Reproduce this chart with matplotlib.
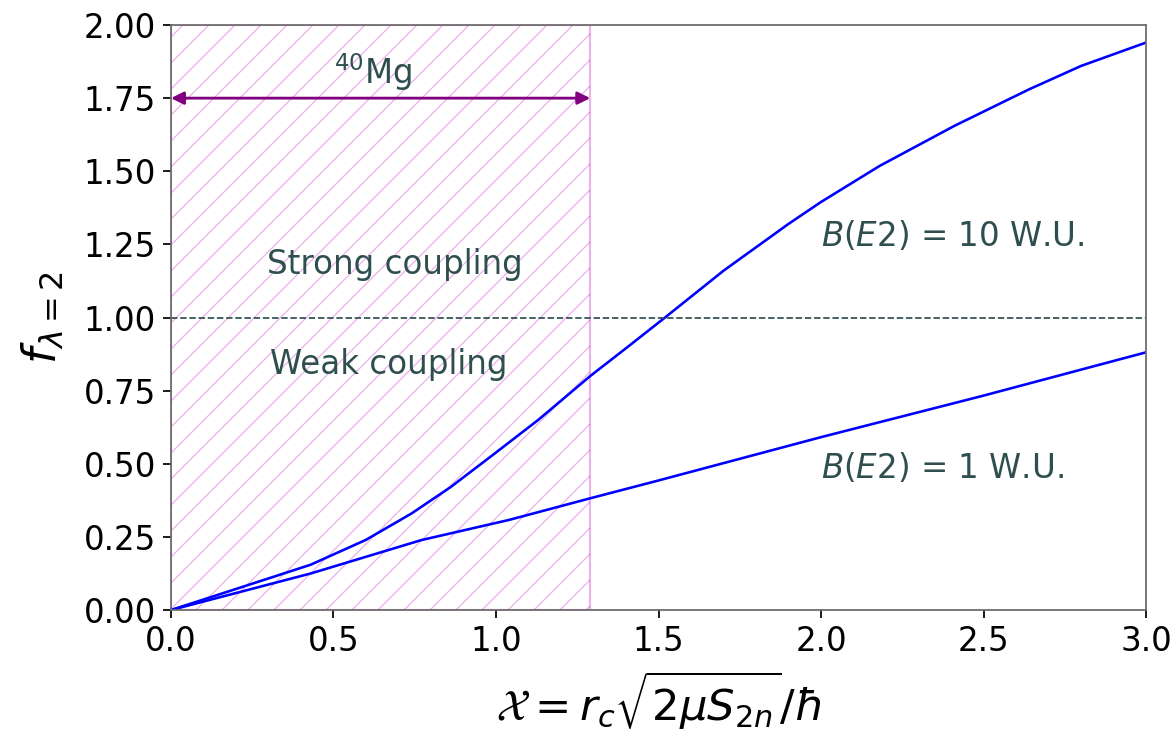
import numpy as np
import matplotlib
matplotlib.use("Agg")
import matplotlib.pyplot as plt

# coupling strength f vs X for two B(E2) values
x_10wu = [0.0, 0.20, 0.43, 0.60, 0.74, 0.86, 0.99, 1.13, 1.29, 1.40, 1.52, 1.70, 1.90, 2.00, 2.18, 2.41, 2.64, 2.80, 3.0]
f_10wu = [0.0, 0.072, 0.155, 0.24, 0.33, 0.42, 0.53, 0.65, 0.80, 0.895, 1.0, 1.16, 1.32, 1.395, 1.518, 1.655, 1.78, 1.86, 1.94]

x_1wu = [0.0, 0.43, 0.77, 1.04, 1.29, 1.49, 2.0, 2.5, 3.0]
f_1wu = [0.0, 0.125, 0.239, 0.308, 0.382, 0.44, 0.591, 0.733, 0.881]

x_mg40 = 1.29   # 40Mg value of X

dpi = 156
fig = plt.figure(figsize=(1176 / dpi, 738 / dpi), dpi=dpi)
ax = fig.add_axes([0.1454, 0.1734, 0.8291, 0.7927])
plt.rcParams['hatch.linewidth'] = 0.6

ax.axvspan(0, x_mg40, fill=False, hatch='//', edgecolor='m', alpha=0.3, linewidth=1.0)
ax.plot(x_10wu, f_10wu, color='blue', lw=1.2)
ax.plot(x_1wu, f_1wu, color='blue', lw=1.2)
ax.axhline(1.0, color='darkslategray', ls='--', lw=0.8)

ax.annotate('', xy=(0, 1.75), xytext=(x_mg40, 1.75),
            arrowprops=dict(arrowstyle='<|-|>', color='purple', lw=1.3,
                            shrinkA=0, shrinkB=0, mutation_scale=12))
ax.text(0.62, 1.84, r'$^{40}$Mg', color='darkslategray', fontsize=15, ha='center', va='center')
ax.text(0.69, 1.18, 'Strong coupling', color='darkslategray', fontsize=15, ha='center', va='center')
ax.text(0.67, 0.84, 'Weak coupling', color='darkslategray', fontsize=15, ha='center', va='center')
ax.text(2.0, 1.28, r'$B(E2)$ = 10 W.U.', color='darkslategray', fontsize=15, va='center')
ax.text(2.0, 0.485, r'$B(E2)$ = 1 W.U.', color='darkslategray', fontsize=15, va='center')

ax.set_xlim(0, 3.0)
ax.set_ylim(0, 2.0)
ax.set_xticks(np.arange(0, 3.01, 0.5))
ax.set_yticks(np.arange(0, 2.01, 0.25))
ax.tick_params(labelsize=15)
for s in ax.spines.values():
    s.set_color('dimgray')
ax.set_xlabel(r'$\mathcal{X} = r_c\sqrt{2\mu S_{2n}}/\hbar$', fontsize=20, labelpad=5)
ax.set_ylabel(r'$f_{\lambda=2}$', fontsize=21, labelpad=8)

fig.savefig('out.png', dpi=dpi)
